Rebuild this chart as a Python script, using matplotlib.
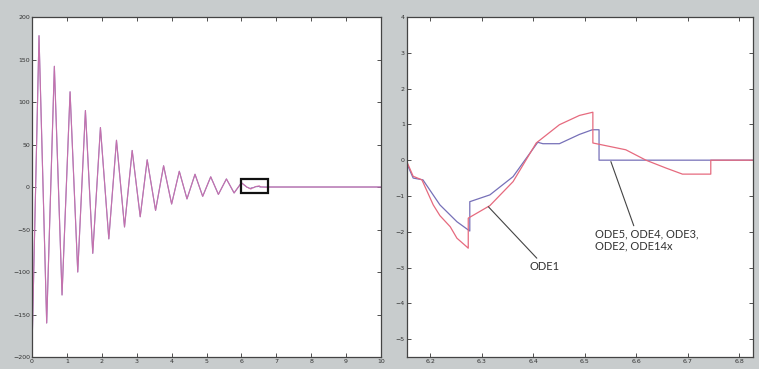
import numpy as np
import matplotlib.pyplot as plt
from matplotlib.patches import Rectangle

# peaks/troughs of the full response (t in s)
t_ext = [0, 0.2, 0.42, 0.64, 0.86, 1.09, 1.31, 1.53, 1.74, 1.96, 2.2, 2.42,
         2.65, 2.87, 3.1, 3.3, 3.54, 3.77, 4.0, 4.22, 4.44, 4.67, 4.89, 5.12,
         5.34, 5.57, 5.79, 6.0]
y_ext = [-190, 178, -160, 142, -127, 112, -100, 90, -78, 70, -61, 55, -47,
         43, -35, 32, -27.5, 25, -20, 18.5, -14, 15, -11, 12, -8.7, 9.5, -7, 5]

# zoomed section, ODE1
t_ode1 = [6.155, 6.167, 6.184, 6.206, 6.219, 6.239, 6.252, 6.271, 6.274,
          6.274, 6.316, 6.361, 6.406, 6.451, 6.490, 6.516, 6.516, 6.580,
          6.619, 6.658, 6.690, 6.745, 6.745, 10.0]
y_ode1 = [-0.05, -0.45, -0.55, -1.25, -1.55, -1.86, -2.18, -2.42, -2.46,
          -1.62, -1.27, -0.6, 0.48, 0.99, 1.25, 1.34, 0.48, 0.29,
          0.0, -0.22, -0.39, -0.39, 0.0, 0.0]

# zoomed section, ODE5/ODE4/ODE3/ODE2/ODE14x
t_ode5 = [6.155, 6.167, 6.186, 6.219, 6.252, 6.274, 6.277, 6.277, 6.316,
          6.361, 6.409, 6.419, 6.451, 6.490, 6.515, 6.528, 6.528, 10.0]
y_ode5 = [-0.1, -0.5, -0.55, -1.25, -1.72, -1.95, -1.98, -1.16, -0.97,
          -0.46, 0.5, 0.46, 0.46, 0.72, 0.85, 0.85, 0.0, 0.0]

left_yticks = [-200, -150, -100, -50, 0, 50, 100, 150, 200]
left_xticks = list(range(0, 11))
right_yticks = [-5, -4, -3, -2, -1, 0, 1, 2, 3, 4]
right_xticks = [6.2, 6.3, 6.4, 6.5, 6.6, 6.7, 6.8]

box_t = (6.0, 6.75)
box_y = (-7.5, 10)

red = '#e66a7e'
blue = '#7670b8'

fig = plt.figure(figsize=(7.59, 3.69), dpi=100, facecolor='#c8cccd')
ax1 = fig.add_axes([0.0422, 0.0325, 0.4598, 0.9214])
ax2 = fig.add_axes([0.5362, 0.0325, 0.4559, 0.9214])

# full response: both solvers overlap
ax1.plot(t_ext + t_ode5, y_ext + y_ode5, color=blue, lw=0.8)
ax1.plot(t_ext + t_ode1, y_ext + y_ode1, color='#e070a8', lw=0.8, alpha=0.75)
ax1.add_patch(Rectangle((box_t[0], box_y[0]), box_t[1] - box_t[0],
                        box_y[1] - box_y[0], fill=False, ec='#111111', lw=1.6,
                        zorder=5))
ax1.set_xlim(0, 10)
ax1.set_ylim(-200, 200)
ax1.set_xticks(left_xticks)
ax1.set_yticks(left_yticks)

ax2.plot(t_ode5, y_ode5, color=blue, lw=0.9)
ax2.plot(t_ode1, y_ode1, color=red, lw=0.9)
ax2.set_xlim(6.155, 6.827)
ax2.set_ylim(-5.5, 4)
ax2.set_xticks(right_xticks)
ax2.set_yticks(right_yticks)

for ax in (ax1, ax2):
    ax.set_facecolor('white')
    ax.tick_params(direction='in', length=3, width=0.6, labelsize=4.5,
                   colors='#333333', pad=1.5, top=True, right=True)
    for s in ax.spines.values():
        s.set_color('#444444')
        s.set_linewidth(0.9)

fnt = dict(family=['Lato', 'DejaVu Sans'], fontsize=8, color='#333333')
line = dict(arrowstyle='-', color='#444444', lw=0.8, shrinkA=0, shrinkB=0)
ax2.annotate('ODE1', xy=(6.313, -1.30), xytext=(6.393, -2.97),
             va='center', ha='left', arrowprops=line, **fnt)
ax2.annotate('ODE5, ODE4, ODE3,\nODE2, ODE14x', xy=(6.551, -0.04),
             xytext=(6.521, -2.23), va='center', ha='left',
             arrowprops=dict(line, relpos=(0.38, 1.0)), linespacing=1.1, **fnt)

fig.savefig('out.png', dpi=100, facecolor=fig.get_facecolor())
